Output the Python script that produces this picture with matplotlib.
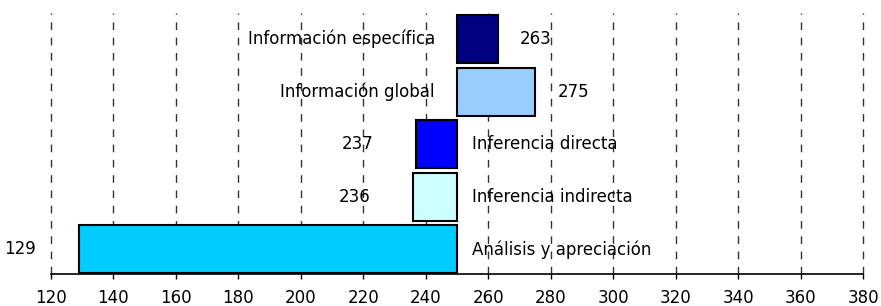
"""
Horizontal bar chart of reading-comprehension scores around a 250 baseline
"""
import matplotlib
import matplotlib.pyplot as plt

matplotlib.use("Agg")

plt.rcParams["font.family"] = ["DejaVu Sans"]

# Data
categories = [
    "Información específica",
    "Información global",
    "Inferencia directa",
    "Inferencia indirecta",
    "Análisis y apreciación",
]
scores = [263, 275, 237, 236, 129]
bar_colors = ["#000080", "#99CCFF", "#0000FF", "#CCFFFF", "#00CCFF"]
baseline = 250
x_ticks = list(range(120, 381, 20))


def main():
    fig = plt.figure(figsize=(8.81, 3.06), dpi=100)
    ax = fig.add_axes([0.0575, 0.1046, 0.9224, 0.8530])

    ypos = list(range(len(categories)))
    widths = [s - baseline for s in scores]
    ax.barh(
        ypos,
        widths,
        left=baseline,
        height=0.91,
        color=bar_colors,
        edgecolor="black",
        linewidth=1.5,
        zorder=3,
    )

    # Labels: category on the baseline side, value past the bar end
    fs = 12
    for y, cat, val in zip(ypos, categories, scores):
        if val >= baseline:
            ax.annotate(cat, (baseline, y), xytext=(-16, 0), textcoords="offset points",
                        ha="right", va="center", fontsize=fs)
            ax.annotate(str(val), (val, y), xytext=(16, 0), textcoords="offset points",
                        ha="left", va="center", fontsize=fs)
        else:
            ax.annotate(cat, (baseline, y), xytext=(11, 0), textcoords="offset points",
                        ha="left", va="center", fontsize=fs)
            ax.annotate(str(val), (val, y), xytext=(-31, 0), textcoords="offset points",
                        ha="right", va="center", fontsize=fs)

    ax.set_xlim(120, 380)
    ax.set_ylim(4.47, -0.5)
    ax.set_xticks(x_ticks)
    ax.set_yticks([])
    ax.tick_params(axis="x", direction="out", length=3.6, width=1, labelsize=fs, pad=7)

    for x in x_ticks:
        ax.axvline(x, color="#333333", linestyle=(0, (5.5, 5.5)), linewidth=1,
                   zorder=1, clip_on=False)

    for side in ["top", "left", "right"]:
        ax.spines[side].set_visible(False)
    ax.spines["bottom"].set_linewidth(1.2)

    fig.savefig("out.png", dpi=100)


if __name__ == "__main__":
    main()
